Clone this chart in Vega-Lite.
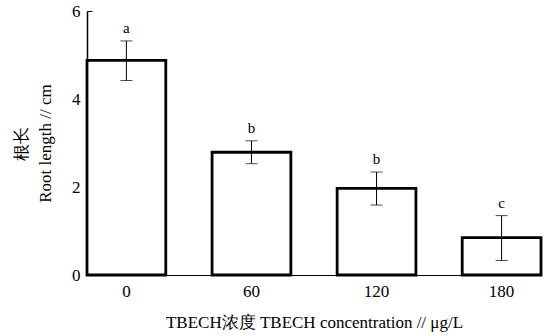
{
  "$schema": "https://vega.github.io/schema/vega-lite/v6.json",
  "autosize": "none",
  "width": 454,
  "height": 264,
  "padding": {"left": 87, "top": 11, "right": 7, "bottom": 61},
  "background": "white",
  "config": {
    "view": {"stroke": null},
    "font": "Liberation Serif",
    "axis": {"labelFont": "Liberation Serif", "titleFont": "Liberation Serif", "labelColor": "black", "titleColor": "black", "domainColor": "black", "tickColor": "black", "grid": false, "titleFontWeight": "normal"}
  },
  "data": {
    "values": [
      {"conc": "0", "mean": 4.88, "lo": 4.42, "hi": 5.32, "sig": "a"},
      {"conc": "60", "mean": 2.79, "lo": 2.53, "hi": 3.05, "sig": "b"},
      {"conc": "120", "mean": 1.97, "lo": 1.59, "hi": 2.34, "sig": "b"},
      {"conc": "180", "mean": 0.85, "lo": 0.33, "hi": 1.35, "sig": "c"}
    ]
  },
  "encoding": {
    "x": {
      "field": "conc", "type": "ordinal", "sort": null,
      "scale": {"paddingInner": 0.37, "paddingOuter": 0},
      "axis": {"labelAngle": 0, "ticks": false, "labelFontSize": 17, "labelPadding": 8, "title": "TBECH浓度 TBECH concentration // μg/L", "titleFontSize": 17, "titlePadding": 15, "domainWidth": 1}
    }
  },
  "layer": [
    {
      "mark": {"type": "bar", "fill": "white", "stroke": "black", "strokeWidth": 2.8},
      "encoding": {
        "y": {
          "field": "mean", "type": "quantitative",
          "scale": {"domain": [0, 6], "nice": false},
          "axis": {"values": [0, 2, 4, 6], "tickSize": -5, "labelPadding": 12, "labelFontSize": 17, "title": ["根长", "Root length // cm"], "titleFontSize": 17, "titleLineHeight": 24, "titlePadding": 17, "domainWidth": 1.5}
        }
      }
    },
    {
      "mark": {"type": "rule", "color": "black", "strokeWidth": 1},
      "encoding": {"y": {"field": "lo", "type": "quantitative"}, "y2": {"field": "hi"}}
    },
    {
      "mark": {"type": "tick", "color": "black", "thickness": 1, "size": 12},
      "encoding": {"y": {"field": "lo", "type": "quantitative"}}
    },
    {
      "mark": {"type": "tick", "color": "black", "thickness": 1, "size": 12},
      "encoding": {"y": {"field": "hi", "type": "quantitative"}}
    },
    {
      "mark": {"type": "text", "baseline": "bottom", "dy": -5, "fontSize": 15, "font": "Liberation Serif"},
      "encoding": {"y": {"field": "hi", "type": "quantitative"}, "text": {"field": "sig"}}
    }
  ]
}
